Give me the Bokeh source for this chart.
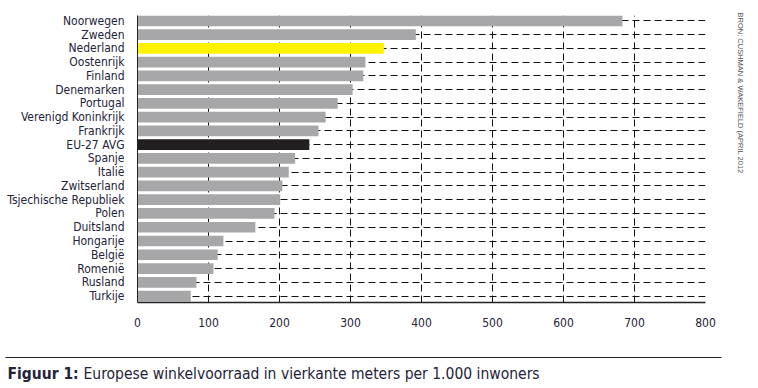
import math
from bokeh.plotting import figure
from bokeh.models import Range1d, FixedTicker, ColumnDataSource
from bokeh.layouts import column, row
from bokeh.core.properties import value
from bokeh.embed import file_html
from bokeh.resources import INLINE

countries = ["Noorwegen", "Zweden", "Nederland", "Oostenrijk", "Finland", "Denemarken",
             "Portugal", "Verenigd Koninkrijk", "Frankrijk", "EU-27 AVG", "Spanje", "Italië",
             "Zwitserland", "Tsjechische Republiek", "Polen", "Duitsland", "Hongarije",
             "België", "Romenië", "Rusland", "Turkije"]
values = [683, 392, 347, 321, 318, 303, 282, 265, 255, 242, 222, 213, 204, 201, 193,
          166, 121, 113, 107, 83, 75]
x_ticks = [0, 100, 200, 300, 400, 500, 600, 700, 800]
caption_bold = "Figuur 1:"
caption_text = "Europese winkelvoorraad in vierkante meters per 1.000 inwoners"
source_text = "BRON: CUSHMAN & WAKEFIELD (APRIL 2012"

GRAY = "#a7a7a9"
highlight = {"Nederland": "#fff200", "EU-27 AVG": "#231f20"}
FONT = "'DejaVu Sans Condensed', 'Liberation Sans Narrow', sans-serif"
TXT = "#23233a"

W = 728
H_MAIN = 345
H_CAP = 40
n = len(countries)
ypos = [n - 1 - i for i in range(n)]
colors = [highlight.get(c, GRAY) for c in countries]
src = ColumnDataSource(dict(y=ypos, v=values, c=colors))

p = figure(width=W, height=H_MAIN, output_backend="svg", toolbar_location=None,
           x_range=Range1d(0, 800), y_range=Range1d(-0.47, n - 1 + 0.39),
           min_border_left=137, min_border_right=W - 705, min_border_top=15,
           min_border_bottom=43)
p.outline_line_color = None
p.background_fill_color = "white"

p.hbar(y="y", right="v", left=0, height=0.78, fill_color="c", line_color=None, source=src)

p.xaxis.ticker = FixedTicker(ticks=x_ticks)
p.xaxis.major_tick_line_color = None
p.xaxis.minor_tick_line_color = None
p.xaxis.axis_line_color = "#222222"
p.xaxis.axis_line_width = 1.5
p.xaxis.major_label_standoff = 9
p.xaxis.major_label_text_font = FONT
p.xaxis.major_label_text_font_size = "12px"
p.xaxis.major_label_text_color = TXT

p.yaxis.ticker = FixedTicker(ticks=ypos)
p.yaxis.major_label_overrides = {y: c for y, c in zip(ypos, countries)}
p.yaxis.major_tick_line_color = None
p.yaxis.minor_tick_line_color = None
p.yaxis.axis_line_color = "#222222"
p.yaxis.axis_line_width = 1
p.yaxis.major_label_standoff = 7
p.yaxis.major_label_text_font = FONT
p.yaxis.major_label_text_font_size = "12px"
p.yaxis.major_label_text_color = TXT

p.xgrid.ticker = FixedTicker(ticks=x_ticks)
p.xgrid.grid_line_color = "#111111"
p.xgrid.grid_line_dash = "7 4"
p.xgrid.grid_line_width = 1
p.ygrid.ticker = FixedTicker(ticks=ypos)
p.ygrid.grid_line_color = "#111111"
p.ygrid.grid_line_dash = "7 4"
p.ygrid.grid_line_width = 1

c = figure(width=W, height=H_CAP, output_backend="svg", toolbar_location=None,
           x_range=Range1d(0, W), y_range=Range1d(0, H_CAP), min_border=0)
c.axis.visible = False
c.grid.visible = False
c.outline_line_color = None
c.segment(x0=[5], y0=[28], x1=[721], y1=[28], line_color="#222222", line_width=1)
c.text(x=[7], y=[12], text=[caption_bold], text_font=value(FONT), text_font_size="15.5px",
       text_font_style="bold", text_baseline="middle", text_color=TXT)
c.text(x=[83], y=[12], text=[caption_text], text_font=value(FONT), text_font_size="15.5px",
       text_baseline="middle", text_color=TXT)

SW = 28
s = figure(width=SW, height=H_MAIN + H_CAP, output_backend="svg", toolbar_location=None,
           x_range=Range1d(0, SW), y_range=Range1d(0, H_MAIN + H_CAP), min_border=0)
s.axis.visible = False
s.grid.visible = False
s.outline_line_color = None
s.text(x=[12], y=[H_MAIN + H_CAP - 12], text=[source_text], angle=-math.pi / 2,
       text_align="left", text_baseline="middle",
       text_font=value("'Liberation Sans', Arial, sans-serif"), text_font_size="7.5px",
       text_color="#555555")

for fig in (p, c, s):
    if "frame_align" in fig.properties():
        fig.frame_align = False

layout = row(column(p, c, spacing=0), s, spacing=0)
open("out.html", "w").write(file_html(layout, INLINE))
